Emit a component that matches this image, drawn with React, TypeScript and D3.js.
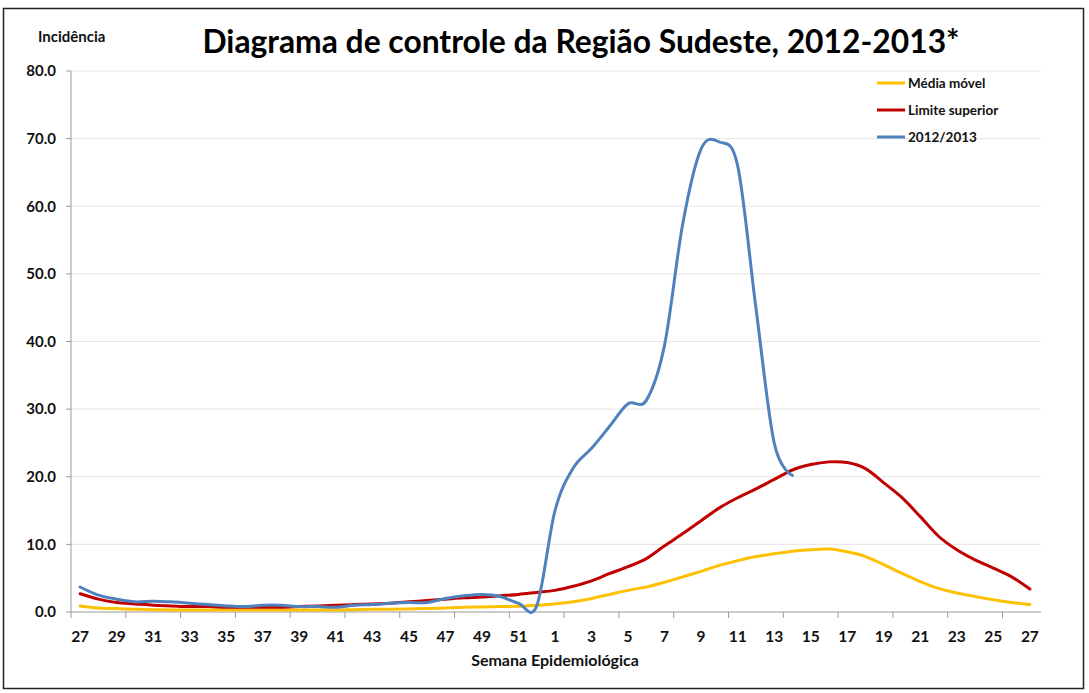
import { useEffect, useRef } from 'react';
import * as d3 from 'd3';

// semanas epidemiológicas 27/2012 .. 27/2013
const weeks: number[] = [
    27, 28, 29, 30, 31, 32, 33, 34, 35, 36, 37, 38, 39, 40, 41, 42, 43, 44, 45, 46, 47, 48, 49, 50, 51, 52,
    1, 2, 3, 4, 5, 6, 7, 8, 9, 10, 11, 12, 13, 14, 15, 16, 17, 18, 19, 20, 21, 22, 23, 24, 25, 26, 27,
];

const mediaMovel: number[] = [
    0.9, 0.6, 0.5, 0.4, 0.35, 0.3, 0.3, 0.3, 0.3, 0.3, 0.3, 0.3, 0.3, 0.3, 0.3, 0.35, 0.4, 0.4, 0.45, 0.5, 0.6, 0.7, 0.75, 0.8, 0.85, 1.0,
    1.2, 1.5, 2.0, 2.6, 3.2, 3.7, 4.4, 5.2, 6.0, 6.9, 7.6, 8.2, 8.6, 9.0, 9.2, 9.3, 8.9, 8.2, 7.0, 5.7, 4.5, 3.5, 2.8, 2.3, 1.8, 1.4, 1.1,
];

const limiteSuperior: number[] = [
    2.7, 1.9, 1.4, 1.2, 1.0, 0.9, 0.8, 0.8, 0.7, 0.7, 0.7, 0.7, 0.8, 0.9, 1.0, 1.1, 1.2, 1.3, 1.5, 1.7, 1.9, 2.1, 2.2, 2.4, 2.6, 2.9,
    3.2, 3.8, 4.6, 5.7, 6.7, 7.9, 9.8, 11.6, 13.5, 15.4, 16.9, 18.2, 19.6, 21.0, 21.8, 22.2, 22.1, 21.2, 19.1, 16.9, 14.1, 11.2, 9.2, 7.7, 6.5, 5.2, 3.4,
];

// 2012/2013 só vai até a semana 14
const serie2012: number[] = [
    3.7, 2.5, 1.9, 1.5, 1.6, 1.5, 1.3, 1.1, 0.9, 0.8, 1.0, 1.0, 0.8, 0.8, 0.7, 1.0, 1.1, 1.3, 1.4, 1.4, 2.0, 2.4, 2.6, 2.3, 1.3, 0.9,
    15.0, 21.3, 24.2, 27.5, 30.8, 31.3, 39.5, 57.5, 68.5, 69.5, 66.0, 45.0, 25.0, 20.2,
];

const yTicks: number[] = [0, 10, 20, 30, 40, 50, 60, 70, 80];

const seriesInfo = [
    { name: 'Média móvel', values: mediaMovel, color: '#FFC000' },
    { name: 'Limite superior', values: limiteSuperior, color: '#C00000' },
    { name: '2012/2013', values: serie2012, color: '#4F81BD' },
];

const FONT = 'Lato, "Open Sans", sans-serif';

export default function App() {
    const svgRef = useRef<SVGSVGElement>(null);

    useEffect(() => {
        if (!svgRef.current) return;
        const svg = d3.select(svgRef.current);
        svg.selectAll('*').remove();

        const width = 1089;
        const height = 693;
        svg.attr('width', width).attr('height', height);

        svg.append('rect')
            .attr('width', width).attr('height', height)
            .attr('fill', '#fff');

        // moldura
        svg.append('rect')
            .attr('x', 3.5).attr('y', 8.5)
            .attr('width', 1080).attr('height', 680)
            .attr('fill', 'none')
            .attr('stroke', '#222')
            .attr('stroke-width', 1.5);

        const x = d3.scaleBand<number>()
            .domain(d3.range(weeks.length))
            .range([71, 1039])
            .padding(0);
        const bw = x.bandwidth();
        const cx = (i: number) => (x(i) as number) + bw / 2;

        const y = d3.scaleLinear().domain([0, 80]).range([612, 71]);

        // grade
        svg.append('g')
            .selectAll('line')
            .data(yTicks.filter(d => d > 0))
            .join('line')
            .attr('x1', 71).attr('x2', 1041)
            .attr('y1', d => y(d)).attr('y2', d => y(d))
            .attr('stroke', '#e8e8e8')
            .attr('stroke-width', 1.2);

        // eixo y
        svg.append('line')
            .attr('x1', 71).attr('x2', 71)
            .attr('y1', y(80)).attr('y2', y(0))
            .attr('stroke', '#9a9a9a');
        svg.append('g')
            .selectAll('line')
            .data(yTicks)
            .join('line')
            .attr('x1', 66).attr('x2', 71)
            .attr('y1', d => y(d)).attr('y2', d => y(d))
            .attr('stroke', '#9a9a9a');
        svg.append('g')
            .selectAll('text')
            .data(yTicks)
            .join('text')
            .attr('x', 56)
            .attr('y', d => y(d))
            .attr('dy', '0.35em')
            .attr('text-anchor', 'end')
            .style('font-family', FONT)
            .style('font-size', '15px')
            .style('font-weight', 'bold')
            .style('fill', '#111')
            .text(d => d3.format('.1f')(d));

        // eixo x
        svg.append('line')
            .attr('x1', 71).attr('x2', 1041)
            .attr('y1', y(0)).attr('y2', y(0))
            .attr('stroke', '#9a9a9a')
            .attr('stroke-width', 1.2);
        const tickIdx = d3.range(0, weeks.length, 3);
        svg.append('g')
            .selectAll('line')
            .data(tickIdx)
            .join('line')
            .attr('x1', d => x(d) as number).attr('x2', d => x(d) as number)
            .attr('y1', y(0)).attr('y2', y(0) + 6)
            .attr('stroke', '#9a9a9a');
        const labelIdx = d3.range(0, weeks.length, 2);
        svg.append('g')
            .selectAll('text')
            .data(labelIdx)
            .join('text')
            .attr('x', d => cx(d))
            .attr('y', 642)
            .attr('text-anchor', 'middle')
            .style('font-family', FONT)
            .style('font-size', '15.5px')
            .style('font-weight', 'bold')
            .style('fill', '#111')
            .text(d => String(weeks[d]));

        // linhas
        const line = d3.line<number>()
            .x((_, i) => cx(i))
            .y(d => y(d))
            .curve(d3.curveCatmullRom.alpha(0));
        seriesInfo.forEach(s => {
            svg.append('path')
                .attr('d', line(s.values))
                .attr('fill', 'none')
                .attr('stroke', s.color)
                .attr('stroke-width', 3)
                .attr('stroke-linejoin', 'round')
                .attr('stroke-linecap', 'round');
        });

        // títulos
        svg.append('text')
            .attr('x', 581).attr('y', 53)
            .attr('text-anchor', 'middle')
            .style('font-family', FONT)
            .style('font-size', '31.8px')
            .style('font-weight', 'bold')
            .style('fill', '#000')
            .text('Diagrama de controle da Região Sudeste, 2012-2013*');

        svg.append('text')
            .attr('x', 38).attr('y', 42)
            .style('font-family', FONT)
            .style('font-size', '15px')
            .style('font-weight', 'bold')
            .style('fill', '#111')
            .text('Incidência');

        svg.append('text')
            .attr('x', 555).attr('y', 666)
            .attr('text-anchor', 'middle')
            .style('font-family', FONT)
            .style('font-size', '16px')
            .style('font-weight', 'bold')
            .style('fill', '#111')
            .text('Semana Epidemiológica');

        // legenda
        const legend = svg.append('g')
            .selectAll('g')
            .data(seriesInfo)
            .join('g')
            .attr('transform', (_, i) => `translate(877, ${83 + i * 27})`);
        legend.append('line')
            .attr('x1', 0).attr('x2', 28)
            .attr('stroke', d => d.color)
            .attr('stroke-width', 3);
        legend.append('text')
            .attr('x', 31)
            .attr('dy', '0.35em')
            .style('font-family', FONT)
            .style('font-size', '13.5px')
            .style('font-weight', 'bold')
            .style('fill', '#111')
            .text(d => d.name);
    }, []);

    return (
        <div>
            <svg ref={svgRef} style={{ position: 'absolute', left: 0, top: 0, display: 'block' }}></svg>
        </div>
    );
}
